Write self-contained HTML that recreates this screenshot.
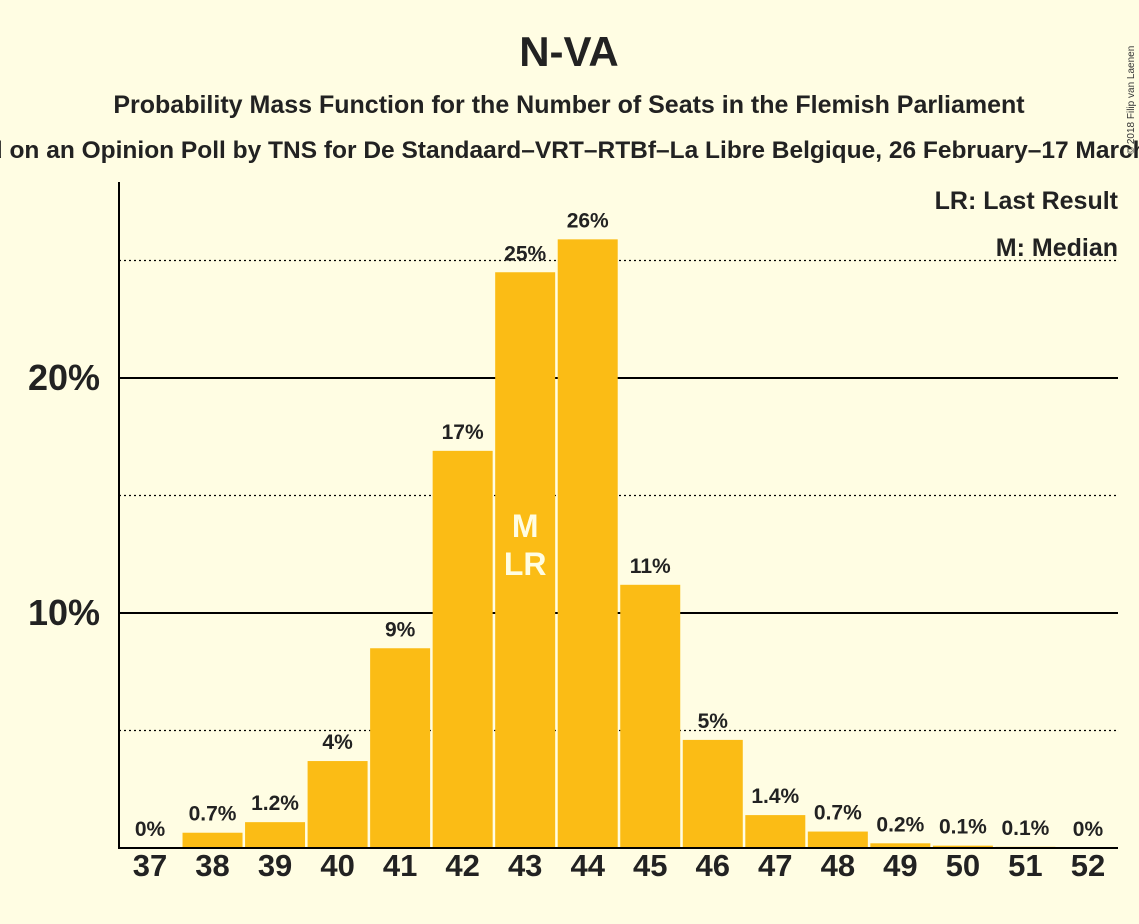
<!DOCTYPE html>
<html><head><meta charset="utf-8">
<style>
html,body{margin:0;padding:0;background:#FFFDE3;}
svg{display:block;font-family:"Liberation Sans",sans-serif;}
</style></head>
<body>
<svg id="chart" width="1139" height="924" viewBox="0 0 1139 924">
<rect width="1139" height="924" fill="#FFFDE3"/>
<text x="569" y="66" text-anchor="middle" font-size="42" font-weight="bold" fill="#222">N-VA</text>
<text x="569" y="113" text-anchor="middle" font-size="25" font-weight="bold" fill="#222">Probability Mass Function for the Number of Seats in the Flemish Parliament</text>
<text x="569" y="158" text-anchor="middle" font-size="24.5" font-weight="bold" fill="#222">Based on an Opinion Poll by TNS for De Standaard–VRT–RTBf–La Libre Belgique, 26 February–17 March 2018</text>
<text transform="translate(1134,100) rotate(-90)" text-anchor="middle" font-size="10" fill="#333">© 2018 Filip van Laenen</text>
<g id="grid"></g>
<g id="bars"></g>
<line x1="119" y1="182" x2="119" y2="849" stroke="#000" stroke-width="2"/>
<line x1="118" y1="848" x2="1118" y2="848" stroke="#000" stroke-width="2"/>
<text x="1118" y="209" text-anchor="end" font-size="25" font-weight="bold" fill="#222">LR: Last Result</text>
<text x="1118" y="256" text-anchor="end" font-size="25" font-weight="bold" fill="#222">M: Median</text>
</svg>
<script>
const seats=[37,38,39,40,41,42,43,44,45,46,47,48,49,50,51,52];
const probs=[0,0.65,1.1,3.7,8.5,16.9,24.5,25.9,11.2,4.6,1.4,0.7,0.2,0.1,0.05,0];
const labels=["0%","0.7%","1.2%","4%","9%","17%","25%","26%","11%","5%","1.4%","0.7%","0.2%","0.1%","0.1%","0%"];
const solidTicks=[10,20];
const dottedTicks=[5,15,25];
const tickLabels=["10%","20%"];
const medianSeat=43, lastResultSeat=43;
const NS="http://www.w3.org/2000/svg";
const y=v=>848-v*23.5;
const x=s=>150+(s-37)*62.53;
const grid=document.getElementById('grid'), bars=document.getElementById('bars');
function mk(tag,attrs,parent){const e=document.createElementNS(NS,tag);for(const k in attrs)e.setAttribute(k,attrs[k]);parent.appendChild(e);return e;}
dottedTicks.forEach(t=>{const l=mk('line',{x1:119,x2:1118,y1:y(t),y2:y(t),stroke:'#000','stroke-width':1.2,'stroke-dasharray':'2,3'},grid);

});
solidTicks.forEach((t,i)=>{const l=mk('line',{x1:119,x2:1118,y1:y(t),y2:y(t),stroke:'#000','stroke-width':2},grid);


const tx=mk('text',{x:100,y:y(t)+12,'text-anchor':'end','font-size':36,'font-weight':'bold',fill:'#222'},grid);tx.textContent=tickLabels[i];

});
seats.forEach((s,i)=>{const v=probs[i];
if(v>0){const r=mk('rect',{x:x(s)-30,y:y(v),width:60,height:848-y(v),fill:'#FBBC15'},bars);

}
const lb=mk('text',{x:x(s),y:y(v)-12,'text-anchor':'middle','font-size':21,'font-weight':'bold',fill:'#222'},bars);lb.textContent=labels[i];


const xl=mk('text',{x:x(s),y:876,'text-anchor':'middle','font-size':31,'font-weight':'bold',fill:'#222'},bars);xl.textContent=s;


if(s===medianSeat){const m=mk('text',{x:x(s),y:537,'text-anchor':'middle','font-size':32,'font-weight':'bold',fill:'#FFFDE3'},bars);m.textContent='M';

}
if(s===lastResultSeat){const m=mk('text',{x:x(s),y:575,'text-anchor':'middle','font-size':32,'font-weight':'bold',fill:'#FFFDE3'},bars);m.textContent='LR';

}
});
</script>
</body></html>
